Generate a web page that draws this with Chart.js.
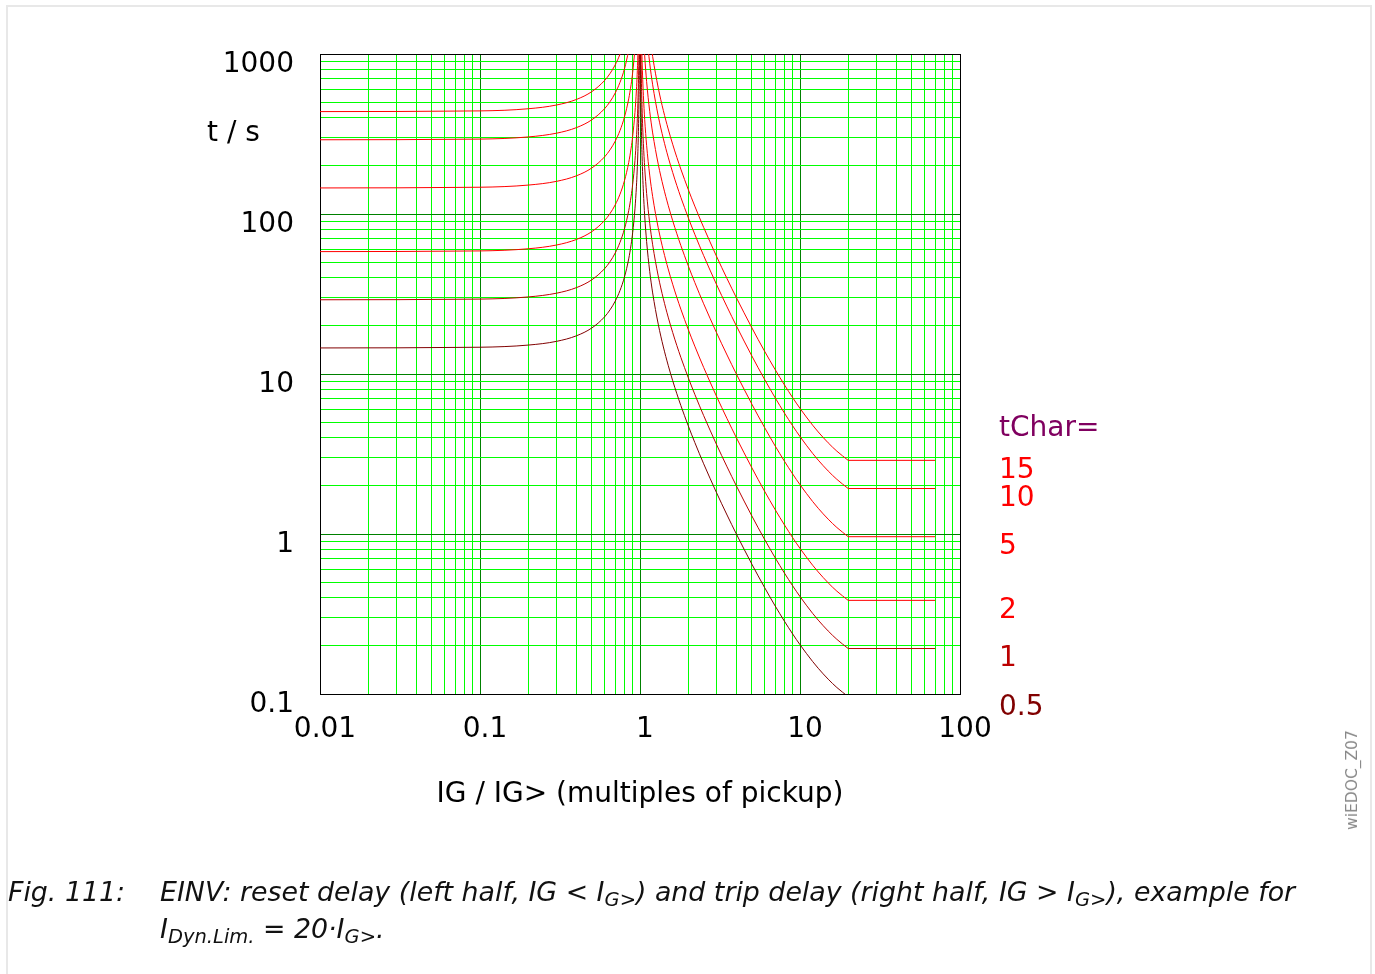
<!DOCTYPE html>
<html>
<head>
<meta charset="utf-8">
<script src="https://cdn.jsdelivr.net/npm/chart.js@4.4.1/dist/chart.umd.min.js"></script>
<style>
  html, body { margin: 0; padding: 0; background: #fff; overflow: hidden; }
  #wrap { position: relative; width: 1375px; height: 974px; }
  #frame { position: absolute; left: 6px; top: 5px; width: 1366px; height: 1000px; border: 2px solid #e8e8e8; box-sizing: border-box; }
  canvas { position: absolute; left: 0; top: 0; }
  .cap { position: absolute; font-family: "DejaVu Sans", sans-serif; font-style: italic; font-size: 26.8px; color: #111; white-space: nowrap; line-height: 37px; }
  .cap sub { font-size: 19.5px; vertical-align: -5px; line-height: 0; }
  #docid { position: absolute; left: 1352px; top: 780px; transform: translate(-50%, -50%) rotate(-90deg); font-family: "DejaVu Sans", sans-serif; font-size: 15.5px; color: #888; white-space: nowrap; }
</style>
</head>
<body>
<div id="wrap">
  <div id="frame"></div>
  <canvas id="c" width="1375" height="974"></canvas>
  <div class="cap" style="left:8px; top:873px;">Fig. 111:</div>
  <div class="cap" style="left:160px; top:873px;">EINV: reset delay (left half, IG &lt; I<sub>G&gt;</sub>) and trip delay (right half, IG &gt; I<sub>G&gt;</sub>), example for<br>I<sub>Dyn.Lim.</sub> = 20·I<sub>G&gt;</sub>.</div>
  <div id="docid">wiEDOC_Z07</div>
</div>
<script>
// ---- data ----
const tChar = [15, 10, 5, 2, 1, 0.5];
const seriesLabels = ['15', '10', '5', '2', '1', '0.5'];
const seriesColors = ['#ff0000', '#ff0000', '#ff0000', '#ff0000', '#bb0000', '#800000'];

const xTickLabels = ['0.01', '0.1', '1', '10', '100'];
const yTickLabels = ['0.1', '1', '10', '100', '1000'];

// reset delay (IG < IG>)
const resetI = [0.01, 0.1, 0.2, 0.3, 0.4, 0.5, 0.6, 0.65, 0.7, 0.75, 0.8, 0.85, 0.88, 0.9, 0.93, 0.95, 0.96, 0.97, 0.98, 0.985, 0.99, 0.995];
const reset15 = [436.5, 440.9, 454.7, 479.7, 519.6, 582.0, 682.0, 755.9, 855.9, 997.7, 1212];
const reset10 = [291.0, 293.9, 303.1, 319.8, 346.4, 388.0, 454.7, 503.9, 570.6, 665.1, 808.3, 1049];
const reset5  = [145.5, 147.0, 151.6, 159.9, 173.2, 194.0, 227.3, 252.0, 285.3, 332.6, 404.2, 524.3, 645.0, 765.8, 1077];
const reset2  = [58.20, 58.79, 60.63, 63.96, 69.29, 77.60, 90.94, 100.8, 114.1, 133.0, 161.7, 209.7, 258.0, 306.3, 430.8, 596.9, 742.3, 984.8, 1470];
const reset1  = [29.10, 29.39, 30.31, 31.98, 34.64, 38.80, 45.47, 50.39, 57.06, 66.51, 80.83, 104.9, 129.0, 153.2, 215.4, 298.5, 371.2, 492.4, 734.9, 977.3, 1462];
const reset05 = [14.55, 14.70, 15.16, 15.99, 17.32, 19.40, 22.73, 25.20, 28.53, 33.26, 40.42, 52.43, 64.50, 76.58, 107.7, 149.2, 185.6, 246.2, 367.4, 488.7, 731.2, 1458.7];

// trip delay (IG > IG>)
const tripI = [1.005, 1.01, 1.02, 1.03, 1.04, 1.05, 1.07, 1.1, 1.15, 1.2, 1.3, 1.4, 1.5, 1.6, 1.7, 1.8, 2, 2.2, 2.5, 3, 3.5, 4, 5, 6, 7, 8, 9, 10, 12, 13, 15, 17, 20];
const trip15 = [42197, 21047, 10472, 6948, 5186, 4128, 2921, 2016, 1313, 963.2, 614.9, 442.5, 340.2, 273.0, 225.6, 190.7, 142.8, 112.0, 82.40, 54.71, 39.42, 30.03, 19.46, 13.91, 10.64, 8.540, 7.113, 6.098, 4.784, 4.344, 3.714, 3.294, 2.886];
const trip10 = [28131, 14031, 6981, 4632, 3457, 2752, 1947, 1344, 875.6, 642.1, 409.9, 295.0, 226.8, 182.0, 150.4, 127.1, 95.22, 74.66, 54.93, 36.47, 26.28, 20.02, 12.97, 9.274, 7.092, 5.693, 4.742, 4.065, 3.189, 2.896, 2.476, 2.196, 1.924];
const trip5  = [14066, 7016, 3491, 2316, 1729, 1376, 973.5, 672.0, 437.8, 321.1, 205.0, 147.5, 113.4, 91.00, 75.20, 63.55, 47.61, 37.33, 27.47, 18.24, 13.14, 10.01, 6.485, 4.637, 3.546, 2.847, 2.371, 2.033, 1.595, 1.448, 1.238, 1.098, 0.962];
const trip2  = [5626, 2806, 1396, 926.4, 691.4, 550.4, 389.4, 268.8, 175.1, 128.4, 81.98, 59.00, 45.36, 36.40, 30.08, 25.42, 19.04, 14.93, 10.99, 7.294, 5.256, 4.004, 2.594, 1.855, 1.418, 1.139, 0.9484, 0.8130, 0.6378, 0.5792, 0.4952, 0.4392, 0.3848];
const trip1  = [2813, 1403, 698.1, 463.2, 345.7, 275.2, 194.7, 134.4, 87.56, 64.21, 40.99, 29.50, 22.68, 18.20, 15.04, 12.71, 9.522, 7.466, 5.493, 3.647, 2.628, 2.002, 1.297, 0.9274, 0.7092, 0.5693, 0.4742, 0.4065, 0.3189, 0.2896, 0.2476, 0.2196, 0.1924];
const trip05 = [1406.6, 701.6, 349.1, 231.6, 172.9, 137.6, 97.35, 67.2, 43.78, 32.11, 20.50, 14.75, 11.34, 9.10, 7.52, 6.355, 4.761, 3.733, 2.747, 1.824, 1.314, 1.001, 0.6485, 0.4637, 0.3546, 0.2847, 0.2371, 0.2033, 0.1595, 0.1448, 0.1238, 0.1098, 0.0962];

// constant delay above I_Dyn.Lim = 20 x pickup
const flatI = [20, 70];
const flatTimes = [2.886, 1.924, 0.962, 0.3848, 0.1924, 0.0962];

const resetSeries = [reset15, reset10, reset5, reset2, reset1, reset05];
const tripSeries = [trip15, trip10, trip5, trip2, trip1, trip05];

// ---- build datasets ----
function pairs(xs, ys) { return ys.map((y, i) => ({ x: xs[i], y: y })); }
const datasets = [];
tChar.forEach((k, i) => {
  const base = { borderColor: seriesColors[i], borderWidth: 1, pointRadius: 0, showLine: true, fill: false };
  datasets.push(Object.assign({ label: 'reset ' + k, data: pairs(resetI, resetSeries[i]), cubicInterpolationMode: 'monotone' }, base));
  datasets.push(Object.assign({ label: 'trip ' + k, data: pairs(tripI, tripSeries[i]), cubicInterpolationMode: 'monotone' }, base));
  datasets.push(Object.assign({ label: 'dyn ' + k, data: pairs(flatI, [flatTimes[i], flatTimes[i]]) }, base));
});

function isDecade(v) { const l = Math.log10(v); return Math.abs(l - Math.round(l)) < 1e-9; }
function gridValues(minExp, maxExp) {
  const out = [];
  for (let e = minExp; e < maxExp; e++) {
    for (let m = 1; m <= 9; m++) out.push(parseFloat((m * Math.pow(10, e)).toPrecision(6)));
  }
  out.push(Math.pow(10, maxExp));
  return out;
}
const FONT = '"DejaVu Sans", sans-serif';

const textPlugin = {
  id: 'textPlugin',
  beforeDatasetsDraw(chart) {
    const { ctx, chartArea: a } = chart;
    ctx.save();
    ctx.strokeStyle = '#000';
    ctx.lineWidth = 1;
    const l = Math.round(a.left) + 0.5, t = Math.round(a.top) + 0.5;
    ctx.strokeRect(l, t, Math.round(a.right) - Math.round(a.left), Math.round(a.bottom) - Math.round(a.top));
    ctx.restore();
  },
  afterDraw(chart) {
    const { ctx } = chart;
    const ys = chart.scales.y;
    ctx.save();
    ctx.font = '28px ' + FONT;
    ctx.textBaseline = 'middle';
    ctx.textAlign = 'left';
    ctx.fillStyle = '#000';
    ctx.fillText('t / s', 207, 134);
    ctx.fillStyle = '#800060';
    ctx.fillText('tChar=', 999, 429);
    seriesLabels.forEach((s, i) => {
      const yy = Math.min(ys.getPixelForValue(flatTimes[i]), ys.bottom) + 10;
      ctx.fillStyle = seriesColors[i];
      ctx.fillText(s, 999, yy + (i === 5 ? 4 : 0));
    });
    ctx.restore();
  }
};

new Chart(document.getElementById('c'), {
  type: 'scatter',
  data: { datasets },
  options: {
    responsive: false,
    animation: false,
    layout: { padding: { left: 0, top: 54, right: 415, bottom: 160 } },
    plugins: { legend: { display: false }, tooltip: { enabled: false } },
    scales: {
      x: {
        type: 'logarithmic',
        position: 'bottom',
        min: 0.01, max: 100,
        afterBuildTicks(s) { s.ticks = gridValues(-2, 2).map(v => ({ value: v })); },
        afterFit(s) { s.height = 120; },
        grid: {
          drawTicks: false,
          color: c => (c.tick && isDecade(c.tick.value)) ? '#008000' : '#00ff00',
          lineWidth: 1
        },
        border: { display: true, color: '#000', width: 1 },
        ticks: {
          autoSkip: false, maxRotation: 0, minRotation: 0,
          labelOffset: 5, padding: 19,
          color: '#000', font: { family: FONT, size: 28 },
          callback(v) { return isDecade(v) ? xTickLabels[Math.round(Math.log10(v)) + 2] : ''; }
        },
        title: {
          display: true, text: 'IG / IG> (multiples of pickup)',
          color: '#000', font: { family: FONT, size: 28 },
          padding: { top: 0, bottom: 2 }
        }
      },
      y: {
        type: 'logarithmic',
        position: 'left',
        min: 0.1, max: 1000,
        afterBuildTicks(s) { s.ticks = gridValues(-1, 3).map(v => ({ value: v })); },
        afterFit(s) { s.width = 320; },
        grid: {
          drawTicks: false,
          color: c => (c.tick && isDecade(c.tick.value)) ? '#008000' : '#00ff00',
          lineWidth: 1
        },
        border: { display: true, color: '#000', width: 1 },
        ticks: {
          autoSkip: false,
          labelOffset: 11, padding: 26,
          color: '#000', font: { family: FONT, size: 28 },
          callback(v) { return isDecade(v) ? yTickLabels[Math.round(Math.log10(v)) + 1] : ''; }
        }
      }
    }
  },
  plugins: [textPlugin]
});
</script>
</body>
</html>
